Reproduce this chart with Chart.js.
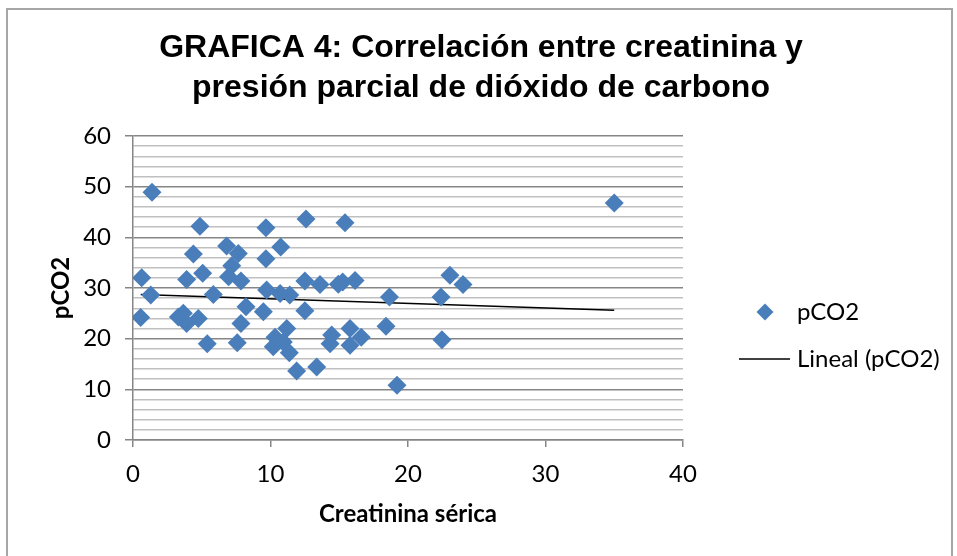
<!DOCTYPE html>
<html>
<head>
<meta charset="utf-8">
<script src="https://cdn.jsdelivr.net/npm/chart.js@4/dist/chart.umd.min.js"></script>
<style>
  html, body { margin: 0; padding: 0; background: #fff; }
  #wrap { position: relative; width: 957px; height: 556px; }
  #frame { position: absolute; left: 6px; top: 8px; width: 947px; height: 560px; border: 2px solid #a6a6a6; box-sizing: border-box; }
  canvas { position: absolute; left: 0; top: 0; }
</style>
</head>
<body>
<div id="wrap">
  <div id="frame"></div>
  <canvas id="chart" width="957" height="556"></canvas>
</div>
<script>
// creatinina sérica (x) and pCO2 (y)
const creatinina = [
  1.38, 0.63, 4.87, 4.39, 3.9, 5.07, 6.81, 7.66, 7.18, 6.95,
  7.85, 9.67, 9.67, 10.74, 12.58, 12.5, 13.6, 15.42, 14.93, 15.25,
  16.15, 23.05, 24.0, 35.0, 22.4, 22.47, 1.29, 0.56, 3.3, 3.9,
  3.66, 4.75, 5.4, 5.84, 7.58, 7.85, 8.22, 9.48, 9.72, 10.7,
  11.4, 12.5, 10.33, 11.18, 10.2, 10.93, 11.37, 11.9, 13.36, 18.65,
  18.4, 19.2, 15.78, 16.6, 14.45, 14.33, 15.78
];
const pco2 = [
  48.9, 32.0, 42.2, 36.7, 31.7, 32.9, 38.3, 36.8, 34.4, 32.2,
  31.4, 41.9, 35.75, 38.1, 43.6, 31.4, 30.7, 42.9, 30.75, 31.2,
  31.5, 32.5, 30.7, 46.8, 28.2, 19.8, 28.6, 24.2, 24.3, 23.0,
  25.0, 24.0, 19.0, 28.7, 19.2, 23.0, 26.3, 25.3, 29.6, 28.9,
  28.6, 25.5, 20.3, 22.0, 18.4, 19.35, 17.2, 13.6, 14.4, 28.2,
  22.45, 10.8, 22.0, 20.3, 20.7, 19.0, 18.7
];
// linear trend line ends (Lineal (pCO2))
const trendX = [0.56, 35.0];
const trendY = [28.7, 25.6];

const xTicks = [0, 10, 20, 30, 40];
const yTicks = [0, 10, 20, 30, 40, 50, 60];
const titleLines = ["GRAFICA 4: Correlación entre creatinina y", "presión parcial de dióxido de carbono"];

const blue = "#4a7ebb";
const tickFont = { family: "Lato", size: 24 };

const points = creatinina.map((x, i) => ({ x: x, y: pco2[i] }));
const trend = trendX.map((x, i) => ({ x: x, y: trendY[i] }));

// title over the whole frame + legend on the right, Excel style
const decorPlugin = {
  id: "decor",
  afterDraw(chart) {
    const ctx = chart.ctx;
    const a = chart.chartArea;
    ctx.save();
    ctx.fillStyle = "#000";
    ctx.font = "bold 32px 'Liberation Sans'";
    ctx.textAlign = "center";
    ctx.textBaseline = "middle";
    titleLines.forEach((t, i) => ctx.fillText(t, 481, 48 + i * 40));

    const lx = a.right + 82;
    const y1 = 312, y2 = 359;
    ctx.fillStyle = blue;
    ctx.beginPath();
    ctx.moveTo(lx, y1 - 8.5);
    ctx.lineTo(lx + 8.5, y1);
    ctx.lineTo(lx, y1 + 8.5);
    ctx.lineTo(lx - 8.5, y1);
    ctx.closePath();
    ctx.fill();
    ctx.strokeStyle = "#000";
    ctx.lineWidth = 1.5;
    ctx.beginPath();
    ctx.moveTo(a.right + 56, y2);
    ctx.lineTo(a.right + 107, y2);
    ctx.stroke();
    ctx.fillStyle = "#000";
    ctx.font = "24px Lato";
    ctx.textAlign = "left";
    ctx.fillText("pCO2", a.right + 114, y1);
    ctx.fillText("Lineal (pCO2)", a.right + 114, y2);
    ctx.restore();
  }
};

new Chart(document.getElementById("chart"), {
  type: "scatter",
  data: {
    datasets: [
      {
        label: "pCO2",
        data: points,
        pointStyle: "rectRot",
        pointRadius: 9.5,
        pointHoverRadius: 9.5,
        backgroundColor: blue,
        borderColor: blue,
        borderWidth: 0
      },
      {
        label: "Lineal (pCO2)",
        data: trend,
        type: "line",
        showLine: true,
        borderColor: "#000",
        borderWidth: 1.5,
        pointRadius: 0,
        fill: false
      }
    ]
  },
  options: {
    responsive: false,
    animation: false,
    layout: { padding: { left: 0, right: 274, top: 136, bottom: 0 } },
    plugins: {
      legend: { display: false },
      tooltip: { enabled: false },
      title: { display: false }
    },
    scales: {
      x: {
        type: "linear",
        min: 0,
        max: 40,
        afterBuildTicks: (scale) => { scale.ticks = xTicks.map((v) => ({ value: v })); },
        afterFit: (scale) => { scale.height = 116; },
        ticks: { color: "#000", font: tickFont, padding: 13 },
        grid: { drawOnChartArea: false, color: "#868686", tickLength: 7, lineWidth: 1.5 },
        border: { color: "#868686", width: 1.5 },
        title: {
          display: true,
          text: "Creatinina sérica",
          color: "#000",
          font: { family: "Lato", size: 24, weight: "bold" },
          padding: { top: 0, bottom: 27 }
        }
      },
      y: {
        min: 0,
        max: 60,
        ticks: {
          stepSize: 2,
          autoSkip: false,
          color: "#000",
          font: tickFont,
          padding: 14,
          callback: (v) => (yTicks.includes(v) ? v : "")
        },
        afterFit: (scale) => { scale.width = 133; },
        grid: {
          color: (c) => (c.tick && c.tick.value % 10 === 0 ? "#868686" : "#c0c0c0"),
          tickColor: (c) => (c.tick && c.tick.value % 10 === 0 ? "#868686" : "rgba(0,0,0,0)"),
          lineWidth: 1.5,
          tickLength: 8
        },
        border: { color: "#868686", width: 1.5 },
        title: {
          display: true,
          text: "pCO2",
          color: "#000",
          font: { family: "Lato", size: 24, weight: "bold" },
          padding: { top: 47, bottom: 0 }
        }
      }
    }
  },
  plugins: [decorPlugin]
});
</script>
</body>
</html>
